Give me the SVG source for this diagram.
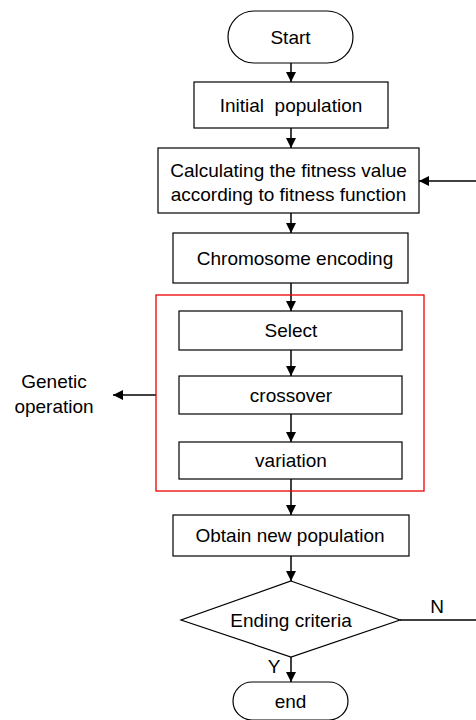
<svg xmlns="http://www.w3.org/2000/svg" width="476" height="720" viewBox="0 0 476 720">
<style>
.n{fill:#fff;stroke:#000;stroke-width:1.2}
.t{font-family:"Liberation Sans",Arial,sans-serif;font-size:19px;fill:#000;text-anchor:middle}
.c{stroke:#000;stroke-width:1.5;fill:none}
</style>
<defs>
<marker id="ah" viewBox="0 0 10 10" refX="10" refY="5" markerWidth="10" markerHeight="10" markerUnits="userSpaceOnUse" orient="auto">
<path d="M0,0 L10,5 L0,10 z" fill="#000"/>
</marker>
</defs>
<rect width="476" height="720" fill="#fff"/>
<g id="connectors">
<line class="c" x1="291" y1="63" x2="291" y2="82" marker-end="url(#ah)"/>
<line class="c" x1="291" y1="128" x2="291" y2="148" marker-end="url(#ah)"/>
<line class="c" x1="291" y1="213" x2="291" y2="233" marker-end="url(#ah)"/>
<line class="c" x1="291" y1="283" x2="291" y2="311" marker-end="url(#ah)"/>
<line class="c" x1="291" y1="350" x2="291" y2="376" marker-end="url(#ah)"/>
<line class="c" x1="291" y1="414" x2="291" y2="442" marker-end="url(#ah)"/>
<line class="c" x1="291" y1="479" x2="291" y2="515" marker-end="url(#ah)"/>
<line class="c" x1="291" y1="556" x2="291" y2="581" marker-end="url(#ah)"/>
<line class="c" x1="291" y1="657" x2="291" y2="682" marker-end="url(#ah)"/>
<line class="c" x1="400" y1="620" x2="476" y2="620"/>
<line class="c" x1="476" y1="181" x2="419" y2="181" marker-end="url(#ah)"/>
<line class="c" x1="156" y1="395" x2="113" y2="395" marker-end="url(#ah)"/>
</g>
<g id="start"><rect class="n" x="228" y="11" width="125" height="52" rx="26"/><text class="t" x="290.5" y="44">Start</text></g>
<g id="initial"><rect class="n" x="194" y="82" width="194" height="46"/><text class="t" x="291" y="112" xml:space="preserve">Initial  population</text></g>
<g id="fitness"><rect class="n" x="158" y="148" width="261" height="65"/><text class="t" x="288.5" y="177">Calculating the fitness value</text><text class="t" x="288.5" y="201">according to fitness function</text></g>
<g id="encoding"><rect class="n" x="173" y="233" width="235" height="50"/><text class="t" x="295" y="265">Chromosome encoding</text></g>
<g id="genetic-operation"><rect x="156" y="295" width="268" height="196" fill="none" stroke="#e00" stroke-width="1.3"/><text class="t" x="54" y="388">Genetic</text><text class="t" x="54" y="413">operation</text></g>
<g id="select"><rect class="n" x="179" y="311" width="223" height="39"/><text class="t" x="291" y="337">Select</text></g>
<g id="crossover"><rect class="n" x="179" y="376" width="223" height="38"/><text class="t" x="291" y="402">crossover</text></g>
<g id="variation"><rect class="n" x="179" y="442" width="223" height="37"/><text class="t" x="291" y="467">variation</text></g>
<g id="obtain"><rect class="n" x="173" y="515" width="236" height="41"/><text class="t" x="290" y="542">Obtain new population</text></g>
<g id="ending"><polygon class="n" points="291,581 400,620 291,657 181,620"/><text class="t" x="291" y="627">Ending criteria</text><text class="t" x="437" y="613">N</text><text class="t" x="274" y="673">Y</text></g>
<g id="end"><rect class="n" x="233" y="682" width="115" height="38" rx="19"/><text class="t" x="290.5" y="708">end</text></g>
</svg>
